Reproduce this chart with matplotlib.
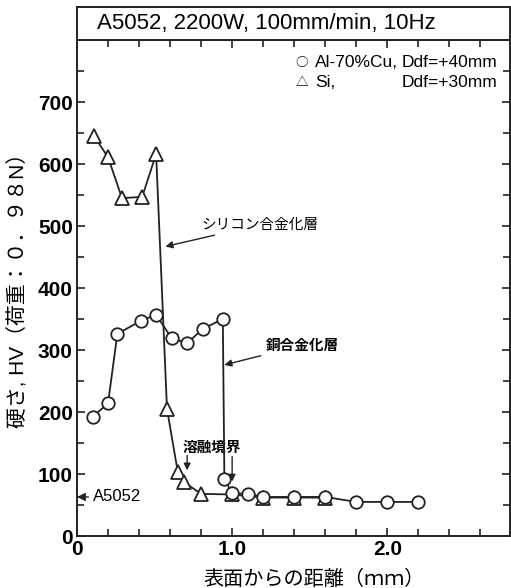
import matplotlib
matplotlib.use("Agg")
import matplotlib.pyplot as plt
from matplotlib.ticker import MultipleLocator, FixedLocator, FixedFormatter

plt.rcParams['font.family'] = ['Liberation Sans', 'DejaVu Sans', 'Noto Sans CJK JP']

# Data
cu_x = [0.10, 0.20, 0.26, 0.41, 0.51, 0.61, 0.71, 0.81, 0.94, 0.95, 1.00, 1.10, 1.20, 1.40, 1.60, 1.80, 2.00, 2.20]
cu_y = [192, 214, 326, 347, 357, 319, 311, 334, 350, 92, 69, 68, 63, 63, 63, 55, 55, 55]
si_x = [0.11, 0.20, 0.29, 0.42, 0.51, 0.58, 0.65, 0.69, 0.80, 1.00, 1.20, 1.40, 1.60]
si_y = [645, 611, 545, 547, 616, 205, 103, 87, 68, 67, 62, 62, 62]

title = "A5052, 2200W, 100mm/min, 10Hz"
legend_symbols = ["○", "△"]
legend_names = ["Al-70%Cu,", "Si,"]
legend_ddf = ["Ddf=+40mm", "Ddf=+30mm"]
xlabel = "表面からの距離（ｍｍ）"
ylabel = "硬さ, HV（荷重：０．９８N）"
xticks = [0, 1.0, 2.0]
xticklabels = ["0", "1.0", "2.0"]
yticks = [0, 100, 200, 300, 400, 500, 600, 700]

fig = plt.figure(figsize=(5.11, 5.88), dpi=100)
ax = fig.add_axes([0.1507, 0.0884, 0.847, 0.8435])

ax.plot(si_x, si_y, color='#222222', lw=1.3, marker='^', markersize=10,
        markerfacecolor='white', markeredgecolor='#222222', markeredgewidth=1.3, zorder=3)
ax.plot(cu_x, cu_y, color='#222222', lw=1.3, marker='o', markersize=9,
        markerfacecolor='white', markeredgecolor='#222222', markeredgewidth=1.3, zorder=4)

ax.set_xlim(0, 2.79)
ax.set_ylim(0, 800)
ax.xaxis.set_major_locator(FixedLocator(xticks))
ax.xaxis.set_major_formatter(FixedFormatter(xticklabels))
ax.xaxis.set_minor_locator(MultipleLocator(0.2))
ax.yaxis.set_major_locator(FixedLocator(yticks))
ax.yaxis.set_minor_locator(MultipleLocator(50))
ax.tick_params(which='both', direction='in', top=True, right=True, width=1.2, color='#222222')
ax.tick_params(which='major', length=6, labelsize=15, pad=3)
ax.tick_params(which='minor', length=5)
for lab in ax.get_xticklabels() + ax.get_yticklabels():
    lab.set_fontweight('bold')
for s in ax.spines.values():
    s.set_linewidth(1.4)
    s.set_color('#222222')

ax.set_xlabel(xlabel, fontsize=14.5)
ax.xaxis.set_label_coords(0.547, -0.068)
ax.set_ylabel(ylabel, fontsize=15)
ax.yaxis.set_label_coords(-0.112, 0.505)

# Legend text
for i, yv in enumerate([763, 731]):
    ax.text(1.45, yv, legend_symbols[i], ha='center', va='center', fontsize=9,
            family=['Noto Sans CJK JP'])
    ax.text(1.535, yv, legend_names[i], ha='left', va='center', fontsize=12.5)
    ax.text(2.71, yv, legend_ddf[i], ha='right', va='center', fontsize=12.5)

# Annotations
ax.annotate("シリコン合金化層", xy=(0.57, 467), xytext=(0.80, 502),
            fontsize=10.5, va='center', ha='left', family=['Noto Sans CJK JP'],
            arrowprops=dict(arrowstyle='-|>', color='#222222', lw=1.0, shrinkA=2, shrinkB=0))
ax.annotate("銅合金化層", xy=(0.95, 276), xytext=(1.22, 308),
            fontsize=10.5, va='center', ha='left', fontweight='bold', family=['Noto Sans CJK JP'],
            arrowprops=dict(arrowstyle='-|>', color='#222222', lw=1.0, shrinkA=2, shrinkB=0))
ax.text(0.68, 144, "溶融境界", fontsize=10.5, ha='left', va='center', fontweight='bold',
        family=['Noto Sans CJK JP'])
ax.annotate("", xy=(0.71, 106), xytext=(0.71, 130),
            arrowprops=dict(arrowstyle='-|>', color='#222222', lw=1.0, shrinkA=0, shrinkB=0))
ax.annotate("", xy=(1.00, 88), xytext=(1.00, 128),
            arrowprops=dict(arrowstyle='-|>', color='#222222', lw=1.0, shrinkA=0, shrinkB=0))
ax.annotate("A5052", xy=(0.0, 63), xytext=(0.10, 63), fontsize=12, va='center', ha='left',
            arrowprops=dict(arrowstyle='-|>', color='#222222', lw=1.0, shrinkA=1, shrinkB=0))

# Title box
tax = fig.add_axes([0.1507, 0.932, 0.847, 0.056])
tax.set_xticks([]); tax.set_yticks([])
for s in tax.spines.values():
    s.set_linewidth(1.4)
    s.set_color('#222222')
tax.text(0.046, 0.5, title, ha='left', va='center', fontsize=16, transform=tax.transAxes)

fig.savefig("out.png", dpi=100)
